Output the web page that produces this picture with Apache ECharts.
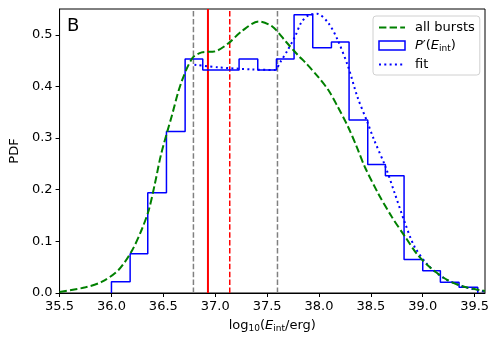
<!DOCTYPE html>
<html>
<head>
<meta charset="utf-8">
<script src="https://cdn.jsdelivr.net/npm/echarts@6/dist/echarts.min.js"></script>
<style>
  html, body { margin: 0; padding: 0; background: #fff; }
  #chart { width: 498px; height: 343px; }
</style>
</head>
<body>
<div id="chart"></div>
<script>
// tick labels
const xTicks = [35.5, 36.0, 36.5, 37.0, 37.5, 38.0, 38.5, 39.0, 39.5];
const yTicks = [0, 0.1, 0.2, 0.3, 0.4, 0.5];

// histogram P'(E_int): bin edges and heights
const binEdges = [36.00, 36.18, 36.35, 36.53, 36.71, 36.88, 37.06, 37.23, 37.41, 37.59,
  37.76, 37.94, 38.12, 38.29, 38.47, 38.64, 38.82, 39.00, 39.17, 39.35, 39.53];
const binHeights = [0.022, 0.076, 0.194, 0.313, 0.453, 0.432, 0.432, 0.453, 0.432, 0.453,
  0.539, 0.475, 0.486, 0.335, 0.249, 0.227, 0.065, 0.043, 0.021, 0.011];

// all bursts (green dashed)
const allX = [35.50, 35.75, 35.91, 36.07, 36.20, 36.29, 36.36, 36.42, 36.48, 36.58,
  36.67, 36.78, 36.87, 37.00, 37.13, 37.25, 37.42, 37.55, 37.68, 37.80,
  37.87, 37.99, 38.09, 38.18, 38.28, 38.36, 38.44, 38.57, 38.70, 38.83,
  38.95, 39.08, 39.24, 39.40, 39.60];
const allY = [0.002, 0.011, 0.022, 0.045, 0.083, 0.122, 0.161, 0.213, 0.270, 0.342,
  0.406, 0.455, 0.466, 0.468, 0.484, 0.506, 0.526, 0.516, 0.487, 0.460,
  0.446, 0.419, 0.393, 0.361, 0.322, 0.285, 0.245, 0.193, 0.148, 0.109,
  0.074, 0.048, 0.025, 0.012, 0.004];

// fit (blue dotted)
const fitX = [36.80, 37.03, 37.35, 37.57, 37.63, 37.70, 37.77, 37.83, 37.90, 37.98,
  38.09, 38.18, 38.28, 38.37, 38.47, 38.53, 38.64, 38.73, 38.83, 38.92,
  39.05, 39.21, 39.40, 39.59];
const fitY = [0.442, 0.437, 0.433, 0.432, 0.448, 0.471, 0.497, 0.524, 0.538, 0.541,
  0.523, 0.490, 0.439, 0.380, 0.329, 0.297, 0.245, 0.193, 0.135, 0.090,
  0.054, 0.028, 0.012, 0.003];

// vertical markers
const grayLines = [36.79, 37.60];
const redSolid = 36.93;
const redDashed = 37.14;

const yMax = 0.55;

function zip(xs, ys) { return xs.map((x, i) => [x, ys[i]]); }

// step outline of the histogram
function histOutline(edges, h) {
  const pts = [[edges[0], 0]];
  for (let i = 0; i < h.length; i++) {
    pts.push([edges[i], h[i]]);
    pts.push([edges[i + 1], h[i]]);
  }
  pts.push([edges[edges.length - 1], 0]);
  return pts;
}

function vline(x, color, type, width) {
  return {
    type: 'line',
    data: [[x, 0], [x, yMax]],
    symbol: 'none',
    silent: true,
    lineStyle: { color: color, type: type, width: width },
    z: 1
  };
}

const FONT = 'DejaVu Sans';

let myChart = echarts.init(document.getElementById('chart'));
let option = {
  animation: false,
  title: {
    text: 'B',
    left: 62,
    top: 12,
    textStyle: { fontFamily: FONT, fontSize: 18, fontWeight: 'normal', color: '#000' }
  },
  grid: {
    left: 57, right: 13, top: 9, bottom: 50,
    show: true, borderColor: '#000', borderWidth: 1
  },
  legend: {
    orient: 'vertical',
    left: 373,
    top: 16,
    padding: [5, 5, 4, 5],
    itemGap: 5,
    itemWidth: 26,
    itemHeight: 9,
    backgroundColor: 'rgba(255,255,255,0.8)',
    borderColor: '#d0d0d0',
    borderWidth: 1,
    borderRadius: 3,
    selectedMode: false,
    data: [
      { name: 'all bursts', itemStyle: { opacity: 0 } },
      { name: "P'(E_int)", icon: 'rect', itemStyle: { color: 'rgba(0,0,0,0)', borderColor: '#0000ff', borderWidth: 1.5 } },
      { name: 'fit', itemStyle: { opacity: 0 } }
    ],
    formatter: function (name) {
      if (name === "P'(E_int)") return '{it|P}′({it|E}{sub|int})';
      return name;
    },
    textStyle: {
      fontFamily: FONT, fontSize: 13, color: '#000', padding: [0, 0, 0, 5],
      rich: {
        it: { fontFamily: FONT, fontSize: 13, fontStyle: 'italic', color: '#000' },
        sub: { fontFamily: FONT, fontSize: 9, color: '#000', padding: [6, 0, 0, 0] }
      }
    }
  },
  xAxis: {
    type: 'value',
    min: 35.5,
    max: 39.6,
    interval: 0.5,
    name: '{n|log}{sub|10}{n|(}{it|E}{sub|int}{n|/erg)}',
    nameLocation: 'middle',
    nameGap: 25,
    nameTextStyle: {
      rich: {
        n: { fontFamily: FONT, fontSize: 13, color: '#000' },
        it: { fontFamily: FONT, fontSize: 13, fontStyle: 'italic', color: '#000' },
        sub: { fontFamily: FONT, fontSize: 9, color: '#000', padding: [6, 0, 0, 0] }
      }
    },
    axisLine: { show: true, lineStyle: { color: '#000', width: 1 } },
    axisTick: { show: true, length: 4, customValues: xTicks, lineStyle: { color: '#000', width: 1 } },
    axisLabel: {
      customValues: xTicks,
      margin: 7,
      fontFamily: FONT, fontSize: 13, color: '#000',
      formatter: v => v.toFixed(1)
    },
    splitLine: { show: false }
  },
  yAxis: {
    type: 'value',
    min: 0,
    max: yMax,
    interval: 0.1,
    name: 'PDF',
    nameLocation: 'middle',
    nameGap: 35,
    nameTextStyle: { fontFamily: FONT, fontSize: 13, color: '#000' },
    axisLine: { show: true, lineStyle: { color: '#000', width: 1 } },
    axisTick: { show: true, length: 4, customValues: yTicks, lineStyle: { color: '#000', width: 1 } },
    axisLabel: {
      customValues: yTicks,
      margin: 7,
      fontFamily: FONT, fontSize: 13, color: '#000',
      formatter: v => v.toFixed(1)
    },
    splitLine: { show: false }
  },
  series: [
    vline(grayLines[0], '#808080', [5.5, 2.4], 1.5),
    vline(grayLines[1], '#808080', [5.5, 2.4], 1.5),
    vline(redSolid, '#ff0000', 'solid', 2),
    vline(redDashed, '#ff0000', [5.5, 2.4], 1.5),
    {
      name: "P'(E_int)",
      type: 'line',
      data: histOutline(binEdges, binHeights),
      symbol: 'none',
      color: '#0000ff',
      lineStyle: { color: '#0000ff', width: 1.5 },
      z: 2
    },
    {
      name: 'fit',
      type: 'line',
      data: zip(fitX, fitY),
      symbol: 'none',
      smooth: 0.3,
      color: '#0000ff',
      lineStyle: { color: '#0000ff', width: 2, type: [2, 3.3] },
      z: 3
    },
    {
      name: 'all bursts',
      type: 'line',
      data: zip(allX, allY),
      symbol: 'none',
      smooth: 0.3,
      color: '#008000',
      lineStyle: { color: '#008000', width: 2, type: [7.4, 3.2] },
      z: 4
    }
  ]
};
myChart.setOption(option);
</script>
</body>
</html>
